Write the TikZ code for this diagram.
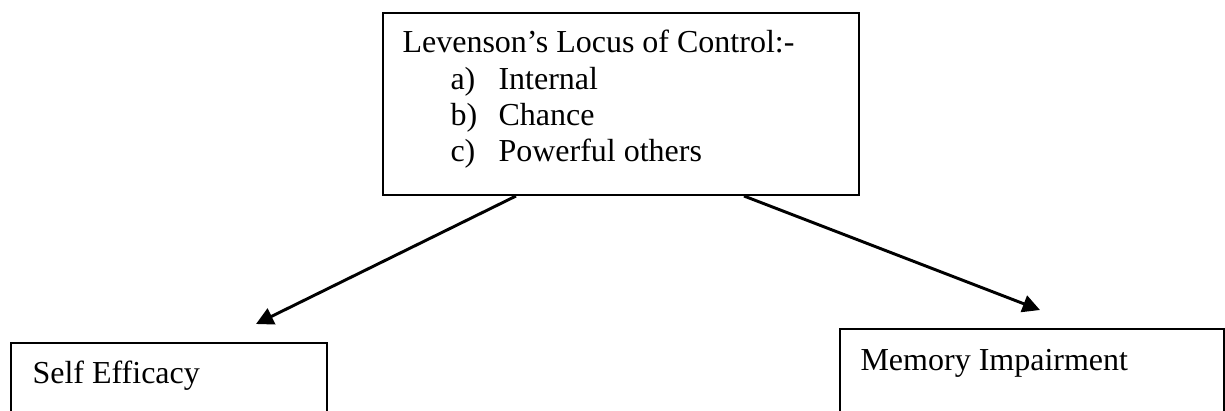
\documentclass[tikz,border=0pt,12pt]{standalone}
\usepackage{fontspec}
\setmainfont{Liberation Serif}
\usetikzlibrary{math,calc,arrows.meta}

\begin{document}
\begin{tikzpicture}[x=0.375pt,y=-0.375pt,
  box/.style={draw,line width=0.75pt,anchor=north west,inner sep=0pt},
  txt/.style={anchor=base west,inner sep=0pt,font=\fontsize{12}{14}\selectfont},
  link/.style={line width=1.1pt,-{Triangle[length=6.5pt,width=6.5pt]}}]

\tikzmath{
\px = 0.375;
}

\useasboundingbox (0,0) rectangle (1225,410);
\clip (0,0) rectangle (1225,410);

% the three boxes (the lower two run off the page)
\node[box,minimum width=476*\px*1pt,minimum height=182*\px*1pt] (locus) at (382,12) {};
\node[box,minimum width=316*\px*1pt,minimum height=200*\px*1pt] (efficacy) at (10,342) {};
\node[box,minimum width=384*\px*1pt,minimum height=200*\px*1pt] (memory) at (839,328) {};

% text of the top box
\node[txt] (head) at (402,52) {Levenson’s Locus of Control:-};
\node[txt] (ia) at (450,89) {a)};
\node[txt] (ta) at (498,89) {Internal};
\node[txt] (ib) at (450,125) {b)};
\node[txt] (tb) at (498,125) {Chance};
\node[txt] (ic) at (450,161) {c)};
\node[txt] (tc) at (498,161) {Powerful others};

% text of the lower boxes
\node[txt] (selfeff) at (32,383) {Self Efficacy};
\node[txt] (memimp) at (860,370) {Memory Impairment};

% arrows stop short of the lower boxes
\coordinate (toleft) at (256,324);
\coordinate (toright) at (1040,310);

\draw[link] ($(locus.south)+(-105,0)$) -- (toleft);
\draw[link] ($(locus.south)+(123,0)$) -- (toright);

\end{tikzpicture}
\end{document}
